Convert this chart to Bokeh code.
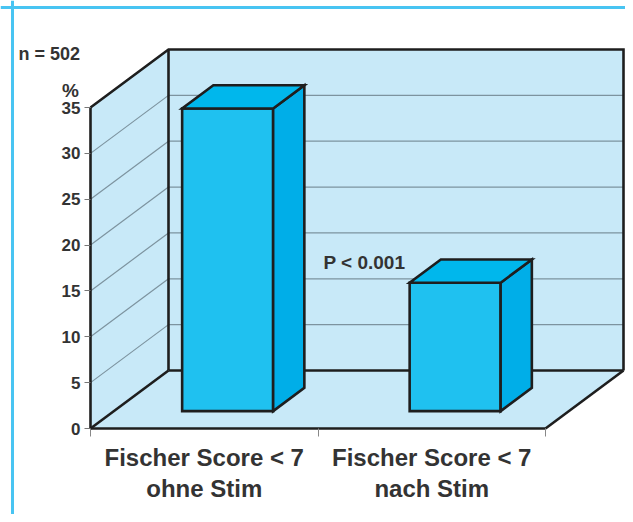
from bokeh.plotting import figure
from bokeh.models import LinearAxis, FixedTicker, Range1d, Span
from bokeh.core.properties import value
from bokeh.embed import file_html
from bokeh.resources import INLINE

# ---- data ----
categories = ["Fischer Score < 7\nohne Stim", "Fischer Score < 7\nnach Stim"]
percent = [33, 14]
y_ticks = [0, 5, 10, 15, 20, 25, 30, 35]
n_label = "n = 502"
unit_label = "%"
p_label = "P < 0.001"

# ---- geometry / styling ----
W, H = 625, 514
PX_X = 227.5              # pixels per category unit
PX_Y = 321 / 35.0         # pixels per percent
X0_PX, Y0_PX = 90, 428    # position of the front-left-bottom corner inside the figure
DX = 78 / PX_X            # depth offset (x units)
DV = 58 / PX_Y            # depth offset (value units)
VMAX = 35
NCAT = len(categories)

FONT = "Liberation Sans"
TXT = "#333333"
WALL = "#c8e9f8"
GRID = "#7d939f"
EDGE = "#1e1e1e"
FRONT = "#1fc1f0"
SIDE = "#00aee8"
TOP = "#00b7ec"
BORDER = "#48c4f2"

xs = -X0_PX / PX_X
xe = (W - X0_PX) / PX_X
ys = -(H - Y0_PX) / PX_Y
ye = Y0_PX / PX_Y

p = figure(width=W, height=H, output_backend="svg", toolbar_location=None,
           x_range=Range1d(xs, xe), y_range=Range1d(ys, ye),
           x_axis_type=None, y_axis_type=None, min_border=0,
           background_fill_color="white", border_fill_color="white")
p.outline_line_color = None
p.xgrid.visible = False
p.ygrid.visible = False


def proj(x, v, d):
    return x + d * DX, v + d * DV


def poly(pts):
    xy = [proj(*q) for q in pts]
    return [a for a, _ in xy], [b for _, b in xy]


# walls and floor
walls = [
    [(0, 0, 1), (NCAT, 0, 1), (NCAT, VMAX, 1), (0, VMAX, 1)],
    [(0, 0, 0), (0, 0, 1), (0, VMAX, 1), (0, VMAX, 0)],
    [(0, 0, 0), (NCAT, 0, 0), (NCAT, 0, 1), (0, 0, 1)],
]
wx, wy = zip(*[poly(w) for w in walls])
p.patches(list(wx), list(wy), fill_color=WALL, line_color=None)

# grid lines on back wall and side wall
gx, gy = [], []
for t in y_ticks[1:-1]:
    a, b = poly([(0, t, 1), (NCAT, t, 1)])
    gx.append(a); gy.append(b)
    a, b = poly([(0, t, 0), (0, t, 1)])
    gx.append(a); gy.append(b)
p.multi_line(gx, gy, line_color=GRID, line_width=1.2)

# box edges
edges = [
    [(0, VMAX, 0), (0, VMAX, 1), (NCAT, VMAX, 1), (NCAT, 0, 1)],
    [(0, 0, 1), (0, VMAX, 1)],
    [(0, 0, 1), (NCAT, 0, 1)],
    [(0, 0, 0), (0, 0, 1)],
    [(NCAT, 0, 0), (NCAT, 0, 1)],
]
ex, ey = zip(*[poly(e) for e in edges])
p.multi_line(list(ex), list(ey), line_color=EDGE, line_width=2.6, line_join="miter")

# 3D bars
D0, D1, BW = 0.3, 0.7, 0.2
for i, val in enumerate(percent):
    c = i + 0.5
    x0, x1 = c - BW, c + BW
    faces = [
        ([(x0, 0, D0), (x1, 0, D0), (x1, val, D0), (x0, val, D0)], FRONT),
        ([(x1, 0, D0), (x1, 0, D1), (x1, val, D1), (x1, val, D0)], SIDE),
        ([(x0, val, D0), (x1, val, D0), (x1, val, D1), (x0, val, D1)], TOP),
    ]
    for pts, col in faces:
        fx, fy = poly(pts)
        p.patch(fx, fy, fill_color=col, line_color=EDGE, line_width=2.6, line_join="miter")

# front axes
yax = LinearAxis(fixed_location=0, bounds=(0, VMAX), ticker=FixedTicker(ticks=y_ticks))
yax.axis_line_color = EDGE
yax.axis_line_width = 2.6
yax.major_tick_in = 0
yax.major_tick_out = 6
yax.major_tick_line_color = "#777777"
yax.minor_tick_line_color = None
yax.major_label_standoff = 4
yax.major_label_text_font = FONT
yax.major_label_text_font_style = "bold"
yax.major_label_text_font_size = "17px"
yax.major_label_text_color = TXT
p.add_layout(yax, "left")

centers = [i + 0.5 for i in range(NCAT)]
xax = LinearAxis(fixed_location=0, bounds=(0, NCAT),
                 ticker=FixedTicker(ticks=centers, minor_ticks=list(range(NCAT + 1))))
xax.axis_line_color = EDGE
xax.axis_line_width = 2.6
xax.major_tick_line_color = None
xax.minor_tick_in = 0
xax.minor_tick_out = 8
xax.minor_tick_line_color = "#888888"
xax.minor_tick_line_width = 1
xax.major_label_overrides = {c: lab for c, lab in zip(centers, categories)}
xax.major_label_standoff = 7
xax.major_label_text_font = FONT
xax.major_label_text_font_style = "bold"
xax.major_label_text_font_size = "24px"
xax.major_label_text_color = TXT
xax.major_label_text_line_height = 1.15
p.add_layout(xax, "below")

# texts
tx = [-72 / PX_X, -20 / PX_X, 1.024]
ty = [VMAX + 54 / PX_Y, VMAX + 17 / PX_Y, percent[1] + 4.1]
tt = [n_label, unit_label, p_label]
talign = ["left", "center", "left"]
tsize = ["18px", "19px", "19px"]
p.text(x=tx, y=ty, text=tt, text_align=talign, text_baseline="alphabetic",
       text_font=value(FONT), text_font_style="bold", text_font_size=tsize,
       text_color=TXT)

# outer frame lines (left and top)
p.add_layout(Span(location=xs + 12 / PX_X, dimension="height", line_color=BORDER, line_width=3))
p.add_layout(Span(location=ye - 7 / PX_Y, dimension="width", line_color=BORDER, line_width=3))

open("out.html", "w").write(file_html(p, INLINE))
